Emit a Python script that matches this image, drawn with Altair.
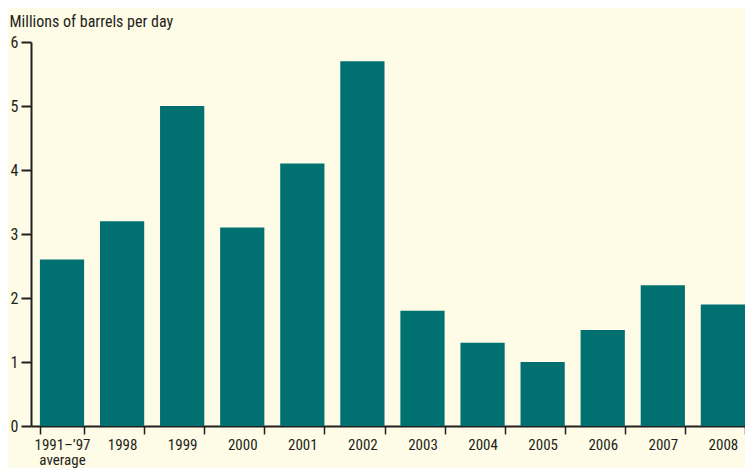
import altair as alt
import pandas as pd

categories = ["1991–’97", "1998", "1999", "2000", "2001", "2002",
              "2003", "2004", "2005", "2006", "2007", "2008"]
values = [2.6, 3.2, 5.0, 3.1, 4.1, 5.7, 1.8, 1.3, 1.0, 1.5, 2.2, 1.9]
y_ticks = [0, 1, 2, 3, 4, 5, 6]

df = pd.DataFrame({"period": categories, "value": values})

FONT = "Liberation Sans Narrow, Arial Narrow, Roboto Condensed, Liberation Sans, sans-serif"
BG = "#FEFCE6"
INK = "#231F20"
BAR = "#007070"

label_expr = "datum.value == '1991–’97' ? ['1991–’97', 'average'] : datum.value"

chart = alt.Chart(df).mark_bar(color=BAR).encode(
    x=alt.X(
        "period:N",
        sort=categories,
        scale=alt.Scale(paddingInner=0.264, paddingOuter=0.074, align=1, round=False),
        axis=alt.Axis(
            title=None, labelAngle=0, tickBand="extent", ticks=True, tickSize=8,
            labelExpr=label_expr, labelFontSize=15, labelPadding=3, labelLineHeight=15,
            labelBaseline="top", labelAlign="center", labelFont=FONT, labelColor=INK,
            domainColor=INK, domainWidth=2, tickColor=INK, tickWidth=1.5,
        ),
    ),
    y=alt.Y(
        "value:Q",
        scale=alt.Scale(domain=[0, 6], nice=False, zero=True, round=False),
        axis=alt.Axis(
            values=y_ticks, grid=False, tickSize=10, tickWidth=2, tickColor=INK,
            domainColor=INK, domainWidth=2, labelPadding=3, labelFontSize=16,
            labelFont=FONT, labelColor=INK,
            title="Millions of barrels per day", titleAngle=0, titleX=-22, titleY=-16,
            titleAlign="left", titleBaseline="alphabetic", titleFontWeight="normal",
            titleFont=FONT, titleFontSize=16, titleColor=INK,
        ),
    ),
).properties(
    width=714,
    height=384,
    background=BG,
    padding={"left": 23, "top": 34, "right": 0, "bottom": 42},
    autosize=alt.AutoSizeParams(type="none"),
).configure_view(stroke=None)

chart.save("out.html", embed_options={"renderer": "svg", "actions": False})
